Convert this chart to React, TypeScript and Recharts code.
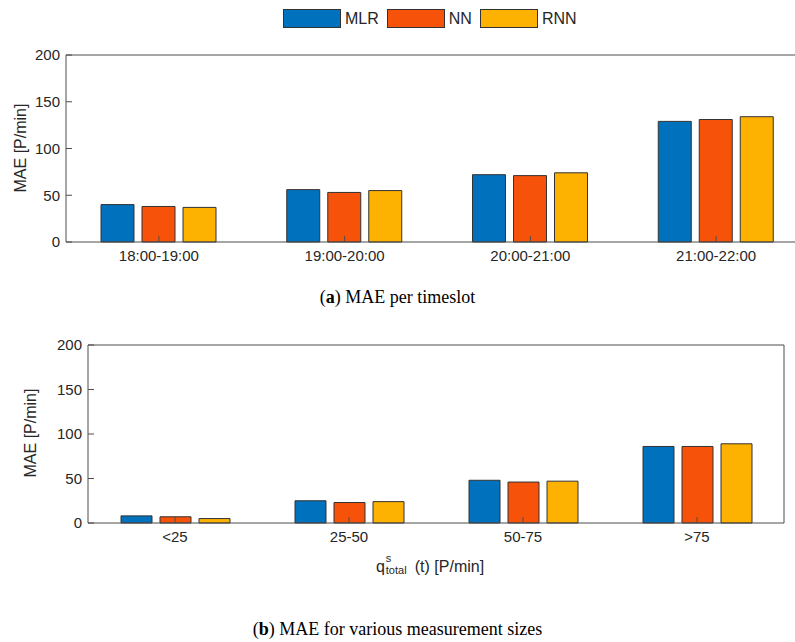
import { BarChart, Bar, XAxis, YAxis } from 'recharts';

const timeslots = ['18:00-19:00', '19:00-20:00', '20:00-21:00', '21:00-22:00'];
const mlrTime = [40, 56, 72, 129];
const nnTime = [38, 53, 71, 131];
const rnnTime = [37, 55, 74, 134];

const sizes = ['<25', '25-50', '50-75', '>75'];
const mlrSize = [8, 25, 48, 86];
const nnSize = [7, 23, 46, 86];
const rnnSize = [5, 24, 47, 89];

const yTicks = [0, 50, 100, 150, 200];

const series = [
    { key: 'MLR', color: '#0072BD' },
    { key: 'NN', color: '#F7520A' },
    { key: 'RNN', color: '#FDB100' },
];

const timeData = timeslots.map((name, i) => ({ name, MLR: mlrTime[i], NN: nnTime[i], RNN: rnnTime[i] }));
const sizeData = sizes.map((name, i) => ({ name, MLR: mlrSize[i], NN: nnSize[i], RNN: rnnSize[i] }));

const axisColor = '#4d4d4d';
const font = 'Liberation Sans, Arial, sans-serif';
const tickStyle = { fill: '#262626', fontSize: 15, fontFamily: font };

function axesAndBars(barSize: number) {
    return [
        <XAxis key="xb" dataKey="name" xAxisId="b" stroke={axisColor} tickSize={-6} tick={tickStyle} tickMargin={14} />,
        <XAxis key="xt" dataKey="name" xAxisId="t" orientation="top" stroke={axisColor} tickSize={-6} tick={false} height={1} />,
        <YAxis key="yl" yAxisId="l" domain={[0, 200]} ticks={yTicks} stroke={axisColor} tickSize={-6} tick={tickStyle} tickMargin={12} width={1} />,
        <YAxis key="yr" yAxisId="r" orientation="right" domain={[0, 200]} ticks={yTicks} stroke={axisColor} tickSize={-6} tick={false} width={1} />,
        ...series.map((s) => (
            <Bar key={s.key} dataKey={s.key} xAxisId="b" yAxisId="l" fill={s.color} stroke="#333" strokeWidth={1} barSize={barSize} isAnimationActive={false} />
        )),
    ];
}

export default function App() {
    const serif = '"Liberation Serif", "DejaVu Serif", serif';
    return (
        <div style={{ position: 'absolute', left: 0, top: 0, width: 795, height: 642, overflow: 'hidden', background: '#fff', fontFamily: font }}>
            <div style={{ position: 'absolute', top: 9, left: 283, display: 'flex', gap: 8, fontSize: 16, color: '#262626' }}>
                {series.map((s) => (
                    <div key={s.key} style={{ display: 'flex', alignItems: 'center', gap: 4 }}>
                        <div style={{ width: 56, height: 17, background: s.color, border: '1px solid #333' }} />
                        <span>{s.key}</span>
                    </div>
                ))}
            </div>

            <div style={{ position: 'absolute', left: 0, top: 0 }}>
                <BarChart width={812} height={272} data={timeData} margin={{ top: 54, left: 65, right: 2, bottom: 0 }} barGap={8}>
                    {axesAndBars(33)}
                </BarChart>
            </div>
            <div style={{ position: 'absolute', left: 21, top: 148, transform: 'translate(-50%, -50%) rotate(-90deg)', fontSize: 16, color: '#262626', whiteSpace: 'nowrap' }}>
                MAE [P/min]
            </div>
            <div style={{ position: 'absolute', top: 287, width: 795, textAlign: 'center', fontFamily: serif, fontSize: 18 }}>
                (<b>a</b>) MAE per timeslot
            </div>

            <div style={{ position: 'absolute', left: 0, top: 0 }}>
                <BarChart width={787} height={553} data={sizeData} margin={{ top: 344, left: 87, right: 2, bottom: 0 }} barGap={8}>
                    {axesAndBars(31)}
                </BarChart>
            </div>
            <div style={{ position: 'absolute', left: 31, top: 433, transform: 'translate(-50%, -50%) rotate(-90deg)', fontSize: 16, color: '#262626', whiteSpace: 'nowrap' }}>
                MAE [P/min]
            </div>
            <div style={{ position: 'absolute', top: 558, left: 0, width: 860, textAlign: 'center', fontSize: 16, color: '#262626' }}>
                q
                <span style={{ display: 'inline-block', position: 'relative', width: 30, height: 10 }}>
                    <span style={{ position: 'absolute', left: 1, top: -10, fontSize: 11 }}>s</span>
                    <span style={{ position: 'absolute', left: 1, top: 2, fontSize: 11 }}>total</span>
                </span>
                (t) [P/min]
            </div>
            <div style={{ position: 'absolute', top: 619, width: 795, textAlign: 'center', fontFamily: serif, fontSize: 18 }}>
                (<b>b</b>) MAE for various measurement sizes
            </div>
        </div>
    );
}
